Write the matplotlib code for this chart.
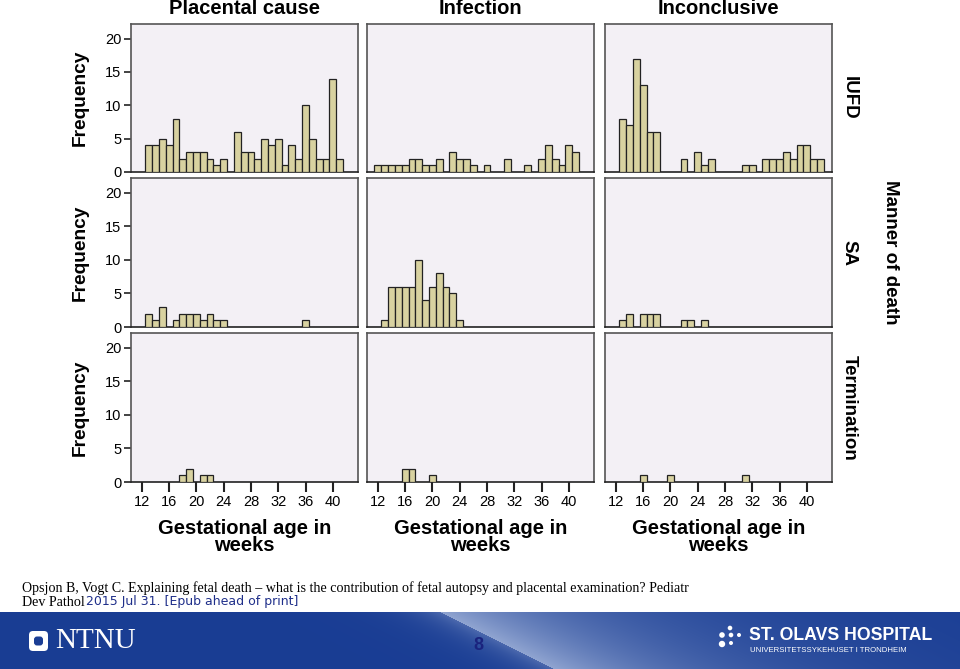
import numpy as np
import matplotlib
matplotlib.use("Agg")
import matplotlib.pyplot as plt
from matplotlib.patches import FancyBboxPatch, Circle

W, H = 960, 669

# gestational age bins (weeks)
weeks = list(range(12, 43))

# counts per week, 12..42
iufd_placental = [0, 4, 4, 5, 4, 8, 2, 3, 3, 3, 2, 1, 2, 0, 6, 3, 3, 2, 5, 4, 5, 1, 4, 2, 10, 5, 2, 2, 14, 2, 0]
iufd_infection = [1, 1, 1, 1, 1, 2, 2, 1, 1, 2, 0, 3, 2, 2, 1, 0, 1, 0, 0, 2, 0, 0, 1, 0, 2, 4, 2, 1, 4, 3, 0]
iufd_inconclusive = [0, 8, 7, 17, 13, 6, 6, 0, 0, 0, 2, 0, 3, 1, 2, 0, 0, 0, 0, 1, 1, 0, 2, 2, 2, 3, 2, 4, 4, 2, 2]
sa_placental = [0, 2, 1, 3, 0, 1, 2, 2, 2, 1, 2, 1, 1, 0, 0, 0, 0, 0, 0, 0, 0, 0, 0, 0, 1, 0, 0, 0, 0, 0, 0]
sa_infection = [0, 1, 6, 6, 6, 6, 10, 4, 6, 8, 6, 5, 1, 0, 0, 0, 0, 0, 0, 0, 0, 0, 0, 0, 0, 0, 0, 0, 0, 0, 0]
sa_inconclusive = [0, 1, 2, 0, 2, 2, 2, 0, 0, 0, 1, 1, 0, 1, 0, 0, 0, 0, 0, 0, 0, 0, 0, 0, 0, 0, 0, 0, 0, 0, 0]
term_placental = [0, 0, 0, 0, 0, 0, 1, 2, 0, 1, 1, 0, 0, 0, 0, 0, 0, 0, 0, 0, 0, 0, 0, 0, 0, 0, 0, 0, 0, 0, 0]
term_infection = [0, 0, 0, 0, 2, 2, 0, 0, 1, 0, 0, 0, 0, 0, 0, 0, 0, 0, 0, 0, 0, 0, 0, 0, 0, 0, 0, 0, 0, 0, 0]
term_inconclusive = [0, 0, 0, 0, 1, 0, 0, 0, 1, 0, 0, 0, 0, 0, 0, 0, 0, 0, 0, 1, 0, 0, 0, 0, 0, 0, 0, 0, 0, 0, 0]

causes = ["Placental cause", "Infection", "Inconclusive"]
manners = ["IUFD", "SA", "Termination"]
grid = [[iufd_placental, iufd_infection, iufd_inconclusive],
        [sa_placental, sa_infection, sa_inconclusive],
        [term_placental, term_infection, term_inconclusive]]
xticks = [12, 16, 20, 24, 28, 32, 36, 40]
yticks = [0, 5, 10, 15, 20]

# panel boxes in pixels
cols = [(131, 358), (367, 594), (605, 832)]
rows = [(24, 172), (178, 327), (333, 482)]

BAR = "#d8d2a0"
PANEL = "#f3f0f5"
SPINE = "#555555"
FONT = "Liberation Sans"

fig = plt.figure(figsize=(W / 100, H / 100), dpi=100)
fig.patch.set_facecolor("white")


def px_axes(x0, x1, y0, y1, **kw):
    return fig.add_axes([x0 / W, 1 - y1 / H, (x1 - x0) / W, (y1 - y0) / H], **kw)


for r, (y0, y1) in enumerate(rows):
    for c, (x0, x1) in enumerate(cols):
        ax = px_axes(x0, x1, y0, y1)
        ax.set_facecolor(PANEL)
        vals = np.array(grid[r][c])
        wk = np.array(weeks)
        m = vals > 0
        ax.bar(wk[m], vals[m], width=1.0, color=BAR, edgecolor="#222222",
               linewidth=0.9, zorder=3)
        ax.set_xlim(10.4, 43.7)
        ax.set_ylim(0, 22.2)
        for s in ax.spines.values():
            s.set_color(SPINE)
            s.set_linewidth(1.2)
        ax.spines["bottom"].set_color("#222222")
        if r == 2:
            ax.set_xticks(xticks)
            ax.set_xticklabels([str(t) for t in xticks], fontsize=10.5,
                               family=FONT)
            ax.tick_params(axis="x", length=7, width=1.5, color="#222222",
                           pad=2)
        else:
            ax.set_xticks([])
        if c == 0:
            ax.set_yticks(yticks)
            ax.set_yticklabels([str(t) for t in yticks], fontsize=10.5,
                               family=FONT)
            ax.tick_params(axis="y", length=5, width=1.2, color="#222222",
                           pad=2)
        else:
            ax.set_yticks([])

# column titles and x labels
for c, (x0, x1) in enumerate(cols):
    xc = (x0 + x1) / 2 / W
    fig.text(xc, 1 - 9 / H, causes[c], ha="center", va="center",
             fontsize=14.5, fontweight="bold", family=FONT)
    fig.text(xc, 1 - 537 / H, "Gestational age in\nweeks", ha="center",
             va="center", fontsize=14.5, fontweight="bold", family=FONT,
             linespacing=0.9)

# row labels
for r, (y0, y1) in enumerate(rows):
    yc = 1 - (y0 + y1) / 2 / H
    fig.text(80 / W, yc, "Frequency", rotation=90, ha="center", va="center",
             fontsize=13.8, fontweight="bold", family=FONT)
    fig.text(849 / W, yc, manners[r], rotation=-90, ha="center", va="center",
             fontsize=13.5, fontweight="bold", family=FONT)
fig.text(890 / W, 1 - 252 / H, "Manner of death", rotation=-90, ha="center",
         va="center", fontsize=13.5, fontweight="bold", family=FONT)

# citation
fig.text(22 / W, 1 - 588 / H,
         "Opsjon B, Vogt C. Explaining fetal death \u2013 what is the contribution "
         "of fetal autopsy and placental examination? Pediatr",
         ha="left", va="center", fontsize=10.1, family="Liberation Serif")
fig.text(22 / W, 1 - 602 / H, "Dev Pathol", ha="left", va="center",
         fontsize=10.1, family="Liberation Serif")
fig.text(86 / W, 1 - 602 / H, "2015 Jul 31. [Epub ahead of print]", ha="left",
         va="center", fontsize=9, family="DejaVu Sans", color="#1f2f8a")

# footer banner
bg = px_axes(0, W, 612, H)
bg.set_xlim(0, W)
bg.set_ylim(H, 612)
bg.axis("off")
xx, yy = np.meshgrid(np.arange(W), np.arange(57))
d = xx - (440 + 2.0 * yy)
light = np.where(d > 0, 0.6 * np.exp(-d / 150.0), 0.25 * np.exp(d / 30.0))
base = np.array([0.10, 0.24, 0.58])
hi = np.array([0.88, 0.92, 0.98])
img = base[None, None, :] * (1 - light[..., None]) + hi[None, None, :] * light[..., None]
bg.imshow(img, extent=(0, W, H, 612), aspect="auto", zorder=0)

bg.add_patch(FancyBboxPatch((29, 631), 19, 20, boxstyle="round,pad=0,rounding_size=4",
                            facecolor="white", edgecolor="none", zorder=2))
bg.add_patch(FancyBboxPatch((34, 636.5), 9, 9, boxstyle="round,pad=0,rounding_size=3",
                            facecolor=base, edgecolor="none", zorder=3))
bg.text(55, 641, "NTNU", color="white", fontsize=21, family="Liberation Serif",
        ha="left", va="center", zorder=3)
bg.text(478, 646, "8", color="#1a237e", fontsize=13, fontweight="bold",
        family=FONT, ha="center", va="center", zorder=3)
for (cx, cy, rr) in [(730, 628, 2.3), (722, 635, 2.8), (731, 635, 2.3),
                     (739, 635, 2.0), (722, 644, 3.2), (731, 643, 2.0)]:
    bg.add_patch(Circle((cx, cy), rr, facecolor="white", edgecolor="none", zorder=3))
bg.text(749, 635, "ST. OLAVS HOSPITAL", color="white", fontsize=12.7,
        fontweight="bold", family=FONT, ha="left", va="center", zorder=3)
bg.text(750, 651, "UNIVERSITETSSYKEHUSET I TRONDHEIM", color="white",
        fontsize=5.6, family=FONT, ha="left", va="center", zorder=3)

fig.savefig("out.png", dpi=100)
